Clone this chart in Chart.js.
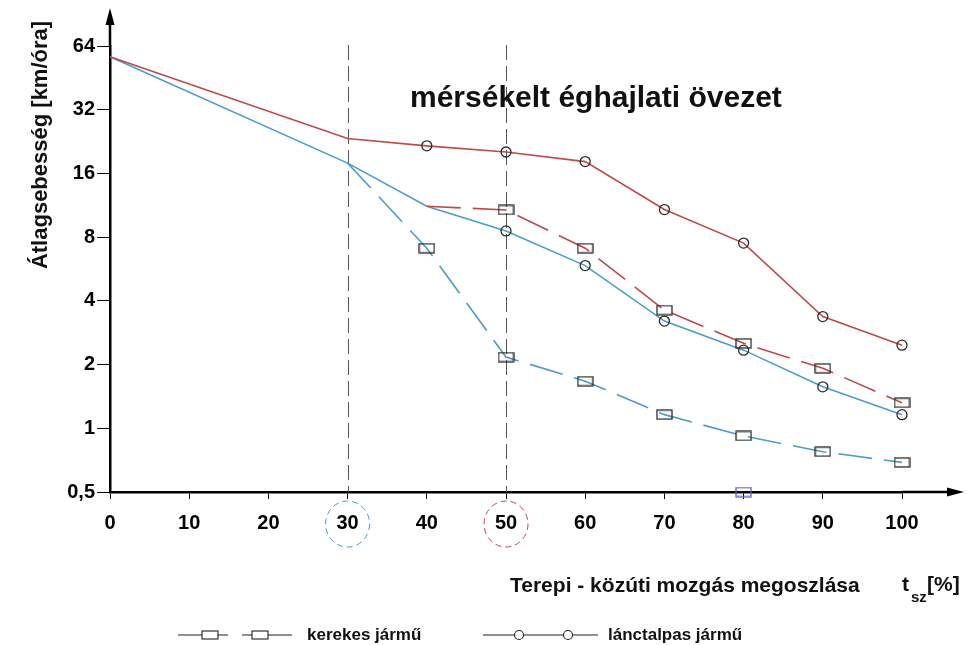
<!DOCTYPE html>
<html lang="hu">
<head>
<meta charset="utf-8">
<title>Átlagsebesség – mérsékelt éghajlati övezet</title>
<script src="https://cdn.jsdelivr.net/npm/chart.js@4.4.1/dist/chart.umd.min.js"></script>
<style>
  html, body { margin: 0; padding: 0; background: #fff; }
  #wrap { width: 967px; height: 645px; }
</style>
</head>
<body>
<div id="wrap"><canvas id="chart" width="967" height="645"></canvas></div>
<script>
// --- adatok ---
const xPos = [0, 30, 40, 50, 60, 70, 80, 90, 100];

// lánctalpas jármű (piros, folytonos, kör jelölő)
const lanctalpasPiros = [57, 23.4, 21.6, 20.2, 18.2, 10.8, 7.5, 3.37, 2.47];
// kerekes jármű (piros, szaggatott, négyzet jelölő)
const kerekesPiros = [null, null, 11.2, 10.75, 7.09, 3.62, 2.52, 1.92, 1.32];
// lánctalpas jármű (kék, folytonos, kör jelölő)
const lanctalpasKek = [57, 17.9, 11.2, 8.56, 5.87, 3.21, 2.34, 1.57, 1.16];
// kerekes jármű (kék, szaggatott, négyzet jelölő)
const kerekesKek = [null, 17.9, 7.09, 2.17, 1.67, 1.16, 0.92, 0.775, 0.69];

// a tengelyen ülő kósza négyzet (80-nál)
const koszaX = [80];
const koszaY = [0.5];

// függőleges határvonalak
const hatarok = [30, 50];

const yTicks = [0.5, 1, 2, 4, 8, 16, 32, 64];
const yTickLabels = ['0,5', '1', '2', '4', '8', '16', '32', '64'];

// --- színek ---
const PIROS = '#bf4a47';
const KEK = '#4b9dcf';
const JELOLO = '#2b2b2b';
const BETU = '"Liberation Sans", Arial, sans-serif';

function toPoints(values) {
  return xPos.map((x, i) => ({ x: x, y: values[i] }));
}

// téglalap alakú jelölő (a kép négyzetei szélesebbek, mint magasak)
function makeRect(color) {
  const c = document.createElement('canvas');
  c.width = 17; c.height = 11;
  const g = c.getContext('2d');
  g.strokeStyle = color;
  g.lineWidth = 1.3;
  g.strokeRect(1, 1, 15, 9);
  return c;
}
const rectBlack = makeRect(JELOLO);
const rectPurple = makeRect('#5b5bd6');

// jelölő csak bizonyos x-től
const markerFrom = (from, r) => ctx => (ctx.parsed.x >= from ? r : 0);

// --- rajzoló plugin: tengely nyilak, feliratok, jelmagyarázat ---
const decorPlugin = {
  id: 'decor',
  beforeDatasetsDraw(chart) {
    const { ctx, chartArea } = chart;
    const xs = chart.scales.x;
    ctx.save();
    // függőleges szaggatott vonalak
    ctx.strokeStyle = '#555';
    ctx.lineWidth = 1;
    ctx.setLineDash([15, 6]);
    hatarok.forEach(v => {
      const px = Math.round(xs.getPixelForValue(v)) + 0.5;
      ctx.beginPath();
      ctx.moveTo(px, chartArea.top - 1);
      ctx.lineTo(px, chartArea.bottom);
      ctx.stroke();
    });
    ctx.restore();
  },
  afterDraw(chart) {
    const { ctx, chartArea } = chart;
    const xs = chart.scales.x;
    const left = chartArea.left, bottom = chartArea.bottom;
    ctx.save();

    // tengely meghosszabbítás + nyilak
    ctx.strokeStyle = '#000';
    ctx.fillStyle = '#000';
    ctx.lineWidth = 2.5;
    ctx.beginPath();
    ctx.moveTo(left, chartArea.top);
    ctx.lineTo(left, 22);
    ctx.moveTo(chartArea.right, bottom);
    ctx.lineTo(952, bottom);
    ctx.stroke();
    ctx.beginPath();
    ctx.moveTo(left, 8);
    ctx.lineTo(left - 4.5, 25);
    ctx.lineTo(left + 4.5, 25);
    ctx.closePath();
    ctx.fill();
    ctx.beginPath();
    ctx.moveTo(964, bottom);
    ctx.lineTo(947, bottom - 4.5);
    ctx.lineTo(947, bottom + 4.5);
    ctx.closePath();
    ctx.fill();

    // szaggatott körök a 30 és 50 felirat körül
    ctx.lineWidth = 1;
    ctx.setLineDash([6, 4]);
    [[30, KEK], [50, PIROS]].forEach(([v, col]) => {
      ctx.strokeStyle = col;
      ctx.beginPath();
      ctx.ellipse(xs.getPixelForValue(v), bottom + 32, 22, 23, 0, 0, Math.PI * 2);
      ctx.stroke();
    });
    ctx.setLineDash([]);

    // övezet felirat
    ctx.fillStyle = '#111';
    ctx.font = 'bold 30px ' + BETU;
    ctx.textAlign = 'left';
    ctx.textBaseline = 'alphabetic';
    ctx.fillText('mérsékelt éghajlati övezet', 410, 107);

    // y tengely cím
    ctx.textBaseline = 'middle';
    ctx.save();
    ctx.translate(41, 145);
    ctx.rotate(-Math.PI / 2);
    ctx.textAlign = 'center';
    ctx.font = 'bold 22px ' + BETU;
    ctx.fillText('Átlagsebesség [km/óra]', 0, 0);
    ctx.restore();

    // x tengely cím
    ctx.font = 'bold 21px ' + BETU;
    ctx.textAlign = 'left';
    ctx.fillText('Terepi - közúti mozgás megoszlása', 510, 586);
    ctx.fillText('t', 902, 585);
    ctx.font = 'bold 15px ' + BETU;
    ctx.fillText('sz', 911, 598);
    ctx.font = 'bold 21px ' + BETU;
    ctx.fillText('[%]', 927, 585);

    // jelmagyarázat
    const ly = 635;
    ctx.strokeStyle = '#222';
    ctx.lineWidth = 1.2;
    ctx.beginPath();
    ctx.moveTo(178, ly); ctx.lineTo(228, ly);
    ctx.moveTo(242, ly); ctx.lineTo(292, ly);
    ctx.moveTo(483, ly); ctx.lineTo(598, ly);
    ctx.stroke();
    ctx.lineWidth = 1.1;
    [210, 260].forEach(cx => {
      ctx.fillStyle = '#fff';
      ctx.fillRect(cx - 8, ly - 4, 16, 8);
      ctx.strokeRect(cx - 8, ly - 4, 16, 8);
    });
    [519, 568].forEach(cx => {
      ctx.beginPath();
      ctx.arc(cx, ly, 4.5, 0, Math.PI * 2);
      ctx.fillStyle = '#fff';
      ctx.fill();
      ctx.stroke();
    });
    ctx.fillStyle = '#111';
    ctx.font = 'bold 17px ' + BETU;
    ctx.fillText('kerekes jármű', 307, ly);
    ctx.fillText('lánctalpas jármű', 608, ly);

    ctx.restore();
  }
};

const lineBase = {
  borderWidth: 1.6,
  pointBorderWidth: 1.3,
  pointBorderColor: JELOLO,
  pointBackgroundColor: 'rgba(0,0,0,0)',
  pointHoverRadius: 0,
  tension: 0,
  spanGaps: false,
  fill: false
};

new Chart(document.getElementById('chart'), {
  type: 'line',
  data: {
    datasets: [
      Object.assign({}, lineBase, {
        label: 'lánctalpas jármű (piros)',
        data: toPoints(lanctalpasPiros),
        borderColor: PIROS,
        pointStyle: 'circle',
        pointRadius: markerFrom(40, 5)
      }),
      Object.assign({}, lineBase, {
        label: 'kerekes jármű (piros)',
        data: toPoints(kerekesPiros),
        borderColor: PIROS,
        borderDash: [34, 12],
        pointStyle: rectBlack,
        pointRadius: markerFrom(50, 8)
      }),
      Object.assign({}, lineBase, {
        label: 'lánctalpas jármű (kék)',
        data: toPoints(lanctalpasKek),
        borderColor: KEK,
        pointStyle: 'circle',
        pointRadius: markerFrom(50, 5)
      }),
      Object.assign({}, lineBase, {
        label: 'kerekes jármű (kék)',
        data: toPoints(kerekesKek),
        borderColor: KEK,
        borderDash: [34, 12],
        pointStyle: rectBlack,
        pointRadius: markerFrom(40, 8)
      }),
      {
        label: 'kósza jelölő',
        data: koszaX.map((x, i) => ({ x: x, y: koszaY[i] })),
        showLine: false,
        pointStyle: rectPurple,
        pointRadius: 8,
        pointHoverRadius: 0
      }
    ]
  },
  options: {
    responsive: false,
    animation: false,
    events: [],
    clip: false,
    layout: { padding: { left: 0, top: 46, right: 65, bottom: 0 } },
    plugins: {
      legend: { display: false },
      tooltip: { enabled: false }
    },
    scales: {
      x: {
        type: 'linear',
        min: 0,
        max: 100,
        afterFit(scale) { scale.height = 153; },
        ticks: {
          stepSize: 10,
          color: '#000',
          padding: 12,
          font: { family: BETU, size: 20, weight: 'bold' }
        },
        grid: { drawOnChartArea: false, drawTicks: true, tickLength: 7, color: '#000', lineWidth: 1 },
        border: { display: true, color: '#000', width: 2.5 }
      },
      y: {
        type: 'logarithmic',
        min: 0.5,
        max: 64,
        afterFit(scale) { scale.width = 110; },
        afterBuildTicks(scale) {
          scale.ticks = yTicks.map(v => ({ value: v }));
        },
        ticks: {
          color: '#000',
          padding: 2,
          font: { family: BETU, size: 20, weight: 'bold' },
          callback(value, index) { return yTickLabels[index]; }
        },
        grid: { drawOnChartArea: false, drawTicks: true, tickLength: 13, color: '#000', lineWidth: 1 },
        border: { display: true, color: '#000', width: 2.5 }
      }
    }
  },
  plugins: [decorPlugin]
});
</script>
</body>
</html>
